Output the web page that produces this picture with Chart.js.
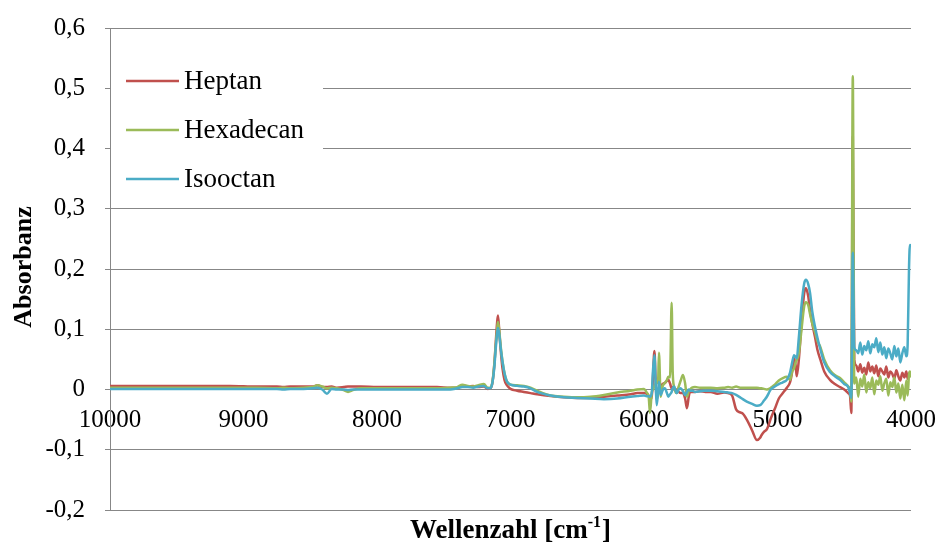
<!DOCTYPE html>
<html>
<head>
<meta charset="utf-8">
<script src="https://cdn.jsdelivr.net/npm/chart.js@4.4.1/dist/chart.umd.min.js"></script>
<style>
  html, body { margin: 0; padding: 0; background: #ffffff; }
  #wrap { width: 941px; height: 545px; position: relative; }
</style>
</head>
<body>
<div id="wrap"><canvas id="nir"></canvas></div>
<script>
// Wavenumbers [cm-1], shared by all three spectra
const wavenumbers = [
  10000, 9700, 9400, 9100, 8900, 8750, 8700, 8650, 8550, 8480, 8445, 8410, 8375, 8340, 8300, 8250, 8217, 8180, 8120, 8000, 7850, 7700, 7550, 7450,
  7400, 7360, 7320, 7280, 7240, 7200, 7170, 7150, 7135, 7120, 7110, 7100, 7094, 7085, 7075, 7060, 7045, 7030, 7015, 7000,
  6950, 6900, 6850, 6800, 6700, 6600, 6500, 6400, 6300, 6200, 6100, 6050, 6000,
  5980, 5965, 5955, 5942, 5933, 5922, 5912, 5905, 5895, 5888, 5875, 5865, 5855, 5843, 5830, 5818, 5805, 5793, 5785, 5775, 5755, 5740, 5725, 5708, 5692, 5678, 5665, 5655, 5640, 5618,
  5580, 5540, 5500, 5450, 5400, 5370, 5340, 5310, 5280, 5260, 5230, 5190, 5154, 5130, 5120, 5100, 5080, 5056, 5050, 5020, 4990, 4960, 4930,
  4906, 4890, 4876, 4864, 4856, 4840, 4820, 4800, 4787, 4770, 4756, 4740, 4719, 4700, 4678, 4650, 4607, 4570, 4532, 4500, 4470, 4457, 4447, 4436, 4425,
  4410, 4395, 4380, 4365, 4350, 4335, 4320, 4305, 4290, 4275, 4260, 4245, 4230, 4215, 4200, 4185, 4170, 4155, 4140, 4125, 4110, 4095, 4080, 4065, 4050, 4035, 4025, 4015, 4008, 4000
];

const heptan = [
  0.006, 0.006, 0.006, 0.006, 0.005, 0.005, 0.004, 0.005, 0.005, 0.005, 0.007, 0.004, 0.004, 0.005, 0.003, 0.004, 0.005, 0.005, 0.005, 0.004, 0.004, 0.004, 0.004, 0.003,
  0.003, 0.007, 0.005, 0.006, 0.004, 0.005, 0.001, 0.002, 0.012, 0.045, 0.080, 0.112, 0.123, 0.100, 0.070, 0.035, 0.016, 0.008, 0.004, 0.001,
  -0.002, -0.004, -0.006, -0.008, -0.011, -0.013, -0.014, -0.014, -0.012, -0.010, -0.008, -0.006, -0.006,
  -0.007, -0.010, -0.013, -0.015, 0.020, 0.064, 0.010, -0.017, -0.005, 0.003, 0.005, 0.008, 0.010, 0.011, 0.014, 0.016, 0.010, 0.002, 0.004, 0.000, 0.000, -0.004, -0.006, -0.006, -0.015, -0.031, -0.012, -0.004, -0.004, -0.004,
  -0.003, -0.004, -0.004, -0.007, -0.005, -0.006, -0.010, -0.033, -0.038, -0.040, -0.050, -0.068, -0.084, -0.080, -0.076, -0.070, -0.066, -0.052, -0.048, -0.032, -0.015, -0.006, 0.003,
  0.012, 0.030, 0.052, 0.040, 0.022, 0.050, 0.110, 0.160, 0.168, 0.155, 0.130, 0.110, 0.087, 0.065, 0.049, 0.030, 0.016, 0.009, 0.004, 0.000, -0.006, -0.010, -0.039, 0.420, 0.050,
  0.040, 0.030, 0.042, 0.028, 0.036, 0.025, 0.045, 0.030, 0.038, 0.027, 0.040, 0.022, 0.035, 0.030, 0.025, 0.038, 0.020, 0.030, 0.026, 0.018, 0.032, 0.022, 0.015, 0.028, 0.020, 0.030, 0.018, 0.024, 0.028, 0.025
];

const hexadecan = [
  0.003, 0.003, 0.003, 0.003, 0.003, 0.002, 0.003, 0.002, 0.003, 0.004, 0.007, 0.005, 0.002, 0.003, 0.002, -0.001, -0.004, -0.001, 0.002, 0.002, 0.002, 0.002, 0.002, 0.003,
  0.004, 0.008, 0.006, 0.005, 0.007, 0.009, 0.003, 0.003, 0.013, 0.045, 0.075, 0.100, 0.112, 0.100, 0.075, 0.047, 0.027, 0.015, 0.010, 0.008,
  0.007, 0.006, 0.003, -0.002, -0.010, -0.012, -0.013, -0.012, -0.009, -0.005, -0.002, 0.000, 0.001,
  -0.005, -0.012, -0.039, -0.005, 0.000, 0.005, 0.010, 0.015, 0.010, 0.061, -0.012, 0.002, 0.008, 0.011, 0.015, 0.021, 0.020, 0.144, 0.030, 0.005, -0.006, 0.005, 0.015, 0.024, 0.010, -0.012, -0.003, 0.000, 0.003, 0.004,
  0.003, 0.003, 0.003, 0.002, 0.003, 0.004, 0.003, 0.005, 0.003, 0.003, 0.003, 0.003, 0.003, 0.002, 0.002, 0.001, 0.000, 0.002, 0.003, 0.008, 0.015, 0.019, 0.021,
  0.016, 0.030, 0.035, 0.045, 0.049, 0.060, 0.100, 0.138, 0.145, 0.140, 0.125, 0.110, 0.095, 0.080, 0.070, 0.050, 0.032, 0.024, 0.019, 0.012, 0.005, 0.000, -0.020, 0.520, 0.010,
  0.020, -0.012, 0.018, 0.005, 0.025, -0.005, 0.012, 0.002, 0.020, -0.008, 0.015, 0.008, 0.022, -0.002, 0.010, 0.018, -0.010, 0.012, 0.004, 0.020, -0.005, 0.010, -0.015, 0.008, -0.018, 0.015, -0.010, 0.025, 0.030, 0.020
];

const isooctan = [
  0.001, 0.001, 0.001, 0.001, 0.001, 0.001, 0.000, 0.001, 0.001, 0.002, 0.003, 0.000, -0.007, 0.001, 0.000, 0.000, -0.001, 0.000, 0.000, 0.000, 0.000, 0.000, 0.000, 0.000,
  0.002, 0.004, 0.004, 0.003, 0.005, 0.006, 0.002, 0.002, 0.012, 0.040, 0.070, 0.093, 0.102, 0.093, 0.072, 0.046, 0.027, 0.015, 0.010, 0.008,
  0.006, 0.005, 0.002, -0.004, -0.010, -0.013, -0.014, -0.015, -0.016, -0.015, -0.012, -0.011, -0.010,
  -0.011, -0.011, -0.012, -0.006, 0.030, 0.057, 0.005, -0.026, -0.005, 0.013, -0.009, -0.004, 0.001, 0.002, -0.005, -0.012, -0.008, -0.004, 0.002, 0.005, -0.006, 0.000, 0.002, -0.003, -0.009, -0.004, 0.000, -0.002, -0.002, -0.004,
  -0.003, -0.002, -0.002, -0.003, -0.004, -0.005, -0.006, -0.009, -0.013, -0.016, -0.020, -0.024, -0.027, -0.026, -0.024, -0.018, -0.012, -0.002, 0.000, 0.005, 0.009, 0.012, 0.016,
  0.028, 0.045, 0.057, 0.054, 0.052, 0.087, 0.140, 0.176, 0.182, 0.175, 0.160, 0.130, 0.104, 0.085, 0.066, 0.045, 0.029, 0.022, 0.016, 0.009, 0.004, -0.006, -0.014, 0.227, 0.070,
  0.065, 0.060, 0.078, 0.058, 0.072, 0.065, 0.080, 0.060, 0.075, 0.070, 0.085, 0.062, 0.078, 0.058, 0.070, 0.052, 0.068, 0.060, 0.050, 0.072, 0.055, 0.068, 0.045, 0.060, 0.070, 0.055, 0.075, 0.200, 0.240, 0.238
];

const seriesNames = ['Heptan', 'Hexadecan', 'Isooctan'];
const seriesColors = ['#C0504D', '#9BBB59', '#4BACC6'];
const xTitle = 'Wellenzahl [cm';
const xTitleSup = '-1';
const yTitle = 'Absorbanz';

const FONT = "'Liberation Serif', 'Times New Roman', serif";
const GRID = '#878787';

const toPoints = ys => wavenumbers.map((w, i) => ({ x: w, y: ys[i] }));

function makeSet(label, values, color, order) {
  return {
    label, data: toPoints(values), borderColor: color, backgroundColor: color,
    borderWidth: 2.5, pointRadius: 0, fill: false,
    cubicInterpolationMode: 'monotone', order
  };
}

// Legend box drawn inside the plot area, top left
const insideLegend = {
  id: 'insideLegend',
  afterDatasetsDraw(chart) {
    const ctx = chart.ctx;
    const area = chart.chartArea;
    ctx.save();
    ctx.fillStyle = '#ffffff';
    ctx.fillRect(area.left + 1, 55, 212, 145);
    const rows = [81, 130, 179];
    ctx.font = '27px ' + FONT;
    ctx.textBaseline = 'middle';
    ctx.textAlign = 'left';
    chart.data.datasets.forEach((ds, i) => {
      ctx.strokeStyle = ds.borderColor;
      ctx.lineWidth = 2.5;
      ctx.beginPath();
      ctx.moveTo(area.left + 16, rows[i]);
      ctx.lineTo(area.left + 69, rows[i]);
      ctx.stroke();
      ctx.fillStyle = '#000000';
      ctx.fillText(ds.label, area.left + 74, rows[i] + 1);
    });
    ctx.restore();
  }
};

// Axis titles (the x title carries a superscript)
const axisTitles = {
  id: 'axisTitles',
  afterDraw(chart) {
    const ctx = chart.ctx;
    const area = chart.chartArea;
    ctx.save();
    ctx.fillStyle = '#000000';
    ctx.textBaseline = 'alphabetic';
    // y title
    ctx.font = 'bold 26px ' + FONT;
    ctx.translate(31, (area.top + area.bottom) / 2 - 2);
    ctx.rotate(-Math.PI / 2);
    ctx.textAlign = 'center';
    ctx.fillText(yTitle, 0, 0);
    ctx.restore();

    ctx.save();
    ctx.fillStyle = '#000000';
    ctx.textBaseline = 'alphabetic';
    const mainFont = 'bold 27px ' + FONT;
    const supFont = 'bold 16px ' + FONT;
    ctx.font = mainFont;
    const w1 = ctx.measureText(xTitle).width;
    const w3 = ctx.measureText(']').width;
    ctx.font = supFont;
    const w2 = ctx.measureText(xTitleSup).width;
    const total = w1 + w2 + w3 + 1;
    let x = (area.left + area.right) / 2 - total / 2;
    const base = 538;
    ctx.textAlign = 'left';
    ctx.font = mainFont;
    ctx.fillText(xTitle, x, base);
    x += w1;
    ctx.font = supFont;
    ctx.fillText(xTitleSup, x, base - 11);
    x += w2 + 1;
    ctx.font = mainFont;
    ctx.fillText(']', x, base);
    ctx.restore();
  }
};

new Chart(document.getElementById('nir'), {
  type: 'line',
  data: {
    datasets: [
      makeSet(seriesNames[0], heptan, seriesColors[0], 2),
      makeSet(seriesNames[1], hexadecan, seriesColors[1], 1),
      makeSet(seriesNames[2], isooctan, seriesColors[2], 0)
    ]
  },
  options: {
    responsive: true,
    maintainAspectRatio: false,
    animation: false,
    layout: { padding: { left: 0, top: 28, right: 30, bottom: 35 } },
    plugins: { legend: { display: false }, tooltip: { enabled: false } },
    scales: {
      x: {
        type: 'linear',
        reverse: true,
        min: 4000,
        max: 10000,
        position: { y: 0 },
        grid: { display: false, drawTicks: false },
        border: { display: false },
        ticks: {
          stepSize: 1000,
          padding: 5,
          maxRotation: 0,
          color: '#000000',
          font: { family: FONT, size: 25, lineHeight: 2.08 },
          callback: v => String(v)
        }
      },
      y: {
        min: -0.2,
        max: 0.6,
        afterFit: scale => { scale.width = 110; },
        grid: { color: GRID, lineWidth: 1, drawTicks: true, tickLength: 5 },
        border: { display: true, color: GRID, width: 1 },
        ticks: {
          stepSize: 0.1,
          padding: 20,
          color: '#000000',
          font: { family: FONT, size: 25, lineHeight: 0.64 },
          callback: v => {
            const r = Math.round(v * 10) / 10;
            return r === 0 ? '0' : r.toFixed(1).replace('.', ',');
          }
        }
      }
    }
  },
  plugins: [insideLegend, axisTitles]
});
</script>
</body>
</html>
